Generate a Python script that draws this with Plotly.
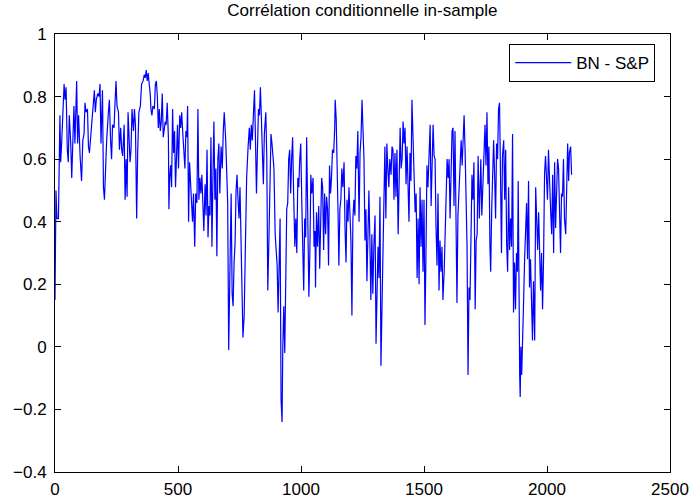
import plotly.graph_objects as go

obs = [0, 4, 8, 14, 20, 23, 27, 31, 37, 41, 45, 50, 54, 58, 64, 68, 72, 77, 81, 88,
       92, 96, 102, 106, 108, 113, 118, 122, 126, 132, 136, 140, 145, 149, 153, 156, 160, 164, 168, 174,
       179, 183, 187, 193, 197, 201, 206, 210, 217, 221, 226, 230, 234, 240, 244, 248, 252, 258, 262, 267,
       271, 275, 281, 285, 289, 293, 297, 301, 305, 309, 313, 319, 323, 327, 332, 336, 341, 347, 352, 358,
       363, 367, 371, 375, 379, 383, 387, 390, 394, 398, 404, 408, 412, 416, 420, 424, 428, 432, 436, 440,
       444, 448, 452, 456, 461, 463, 466, 470, 474, 478, 482, 486, 490, 494, 498, 502, 507, 511, 515, 519,
       523, 528, 532, 536, 539, 543, 547, 551, 555, 559, 563, 568, 572, 577, 581, 585, 589, 593, 597, 601,
       605, 610, 614, 618, 622, 626, 630, 634, 638, 642, 646, 650, 654, 658, 662, 666, 670, 675, 680, 684,
       688, 694, 698, 702, 706, 712, 716, 720, 724, 728, 732, 736, 740, 744, 748, 752, 756, 760, 764, 769,
       774, 779, 785, 790, 794, 798, 802, 806, 811, 815, 819, 823, 827, 831, 835, 839, 843, 847, 851, 857,
       861, 865, 870, 874, 878, 882, 886, 890, 895, 899, 903, 907, 911, 915, 919, 923, 926, 930, 934, 938,
       942, 946, 950, 954, 958, 962, 966, 970, 975, 979, 983, 987, 991, 995, 999, 1003, 1007, 1011, 1015, 1019,
       1023, 1027, 1032, 1036, 1040, 1044, 1049, 1053, 1057, 1059, 1063, 1067, 1072, 1076, 1080, 1084, 1088, 1092, 1096, 1100,
       1104, 1108, 1112, 1116, 1120, 1124, 1128, 1133, 1137, 1139, 1143, 1147, 1151, 1154, 1158, 1162, 1166, 1170, 1175, 1179,
       1183, 1187, 1191, 1195, 1199, 1203, 1207, 1211, 1215, 1219, 1223, 1227, 1231, 1236, 1240, 1244, 1248, 1252, 1256, 1260,
       1264, 1268, 1272, 1276, 1280, 1284, 1288, 1292, 1296, 1301, 1305, 1309, 1313, 1317, 1321, 1325, 1329, 1333, 1337, 1341,
       1345, 1349, 1353, 1357, 1361, 1366, 1370, 1374, 1378, 1382, 1386, 1390, 1395, 1399, 1403, 1407, 1411, 1415, 1419, 1423,
       1427, 1431, 1435, 1439, 1443, 1447, 1451, 1455, 1460, 1464, 1468, 1472, 1476, 1480, 1484, 1488, 1492, 1496, 1500, 1504,
       1508, 1512, 1516, 1521, 1525, 1529, 1533, 1537, 1541, 1545, 1549, 1553, 1557, 1561, 1565, 1569, 1573, 1577, 1582, 1586,
       1590, 1594, 1598, 1602, 1606, 1610, 1614, 1618, 1622, 1626, 1630, 1634, 1638, 1642, 1647, 1651, 1655, 1659, 1663, 1667,
       1671, 1675, 1679, 1683, 1687, 1691, 1695, 1699, 1703, 1708, 1712, 1716, 1720, 1725, 1727, 1731, 1735, 1740, 1744, 1748,
       1752, 1756, 1760, 1764, 1768, 1771, 1775, 1779, 1783, 1787, 1791, 1795, 1799, 1803, 1807, 1811, 1815, 1819, 1824, 1828,
       1832, 1836, 1840, 1844, 1848, 1852, 1856, 1860, 1864, 1868, 1872, 1876, 1880, 1883, 1886, 1889, 1891, 1894, 1897, 1901,
       1905, 1909, 1913, 1917, 1921, 1925, 1929, 1933, 1937, 1941, 1945, 1950, 1954, 1958, 1962, 1966, 1970, 1974, 1978, 1982,
       1986, 1990, 1994, 1998, 2002, 2006, 2010, 2015, 2019, 2023, 2027, 2031, 2035, 2039, 2043, 2047, 2051, 2055, 2059, 2063,
       2067, 2071, 2076, 2080, 2084, 2088, 2091, 2096, 2100]

corr = [0.15, 0.50, 0.41, 0.41, 0.74, 0.59, 0.65, 0.76, 0.84, 0.79, 0.83, 0.63, 0.59, 0.74, 0.65, 0.54, 0.66, 0.77, 0.65, 0.85,
        0.65, 0.74, 0.61, 0.57, 0.53, 0.66, 0.68, 0.78, 0.75, 0.76, 0.64, 0.62, 0.67, 0.74, 0.78, 0.81, 0.82, 0.75, 0.79, 0.81,
        0.80, 0.84, 0.65, 0.82, 0.51, 0.47, 0.58, 0.66, 0.75, 0.79, 0.66, 0.60, 0.71, 0.70, 0.78, 0.85, 0.77, 0.75, 0.63, 0.70,
        0.63, 0.61, 0.71, 0.47, 0.60, 0.48, 0.75, 0.66, 0.59, 0.63, 0.76, 0.69, 0.76, 0.71, 0.41, 0.62, 0.75, 0.77, 0.84, 0.85,
        0.87, 0.86, 0.885, 0.85, 0.875, 0.84, 0.81, 0.76, 0.74, 0.77, 0.76, 0.84, 0.85, 0.80, 0.70, 0.76, 0.69, 0.72, 0.81, 0.67,
        0.70, 0.72, 0.71, 0.78, 0.67, 0.44, 0.54, 0.58, 0.51, 0.76, 0.62, 0.69, 0.51, 0.60, 0.71, 0.57, 0.74, 0.70, 0.75, 0.69,
        0.65, 0.57, 0.69, 0.67, 0.77, 0.40, 0.59, 0.53, 0.47, 0.40, 0.49, 0.32, 0.49, 0.46, 0.76, 0.47, 0.54, 0.49, 0.55, 0.47,
        0.37, 0.52, 0.42, 0.63, 0.35, 0.45, 0.42, 0.67, 0.32, 0.54, 0.72, 0.47, 0.57, 0.29, 0.60, 0.65, 0.49, 0.64, 0.57, 0.69,
        0.75, 0.66, 0.51, 0.46, -0.01, 0.28, 0.49, 0.17, 0.13, 0.27, 0.33, 0.50, 0.55, 0.47, 0.41, 0.51, 0.35, 0.15, 0.03, 0.10,
        0.28, 0.54, 0.64, 0.70, 0.63, 0.71, 0.66, 0.75, 0.82, 0.66, 0.49, 0.63, 0.76, 0.74, 0.83, 0.73, 0.63, 0.52, 0.68, 0.75,
        0.60, 0.18, 0.36, 0.57, 0.68, 0.65, 0.60, 0.57, 0.36, 0.32, 0.26, 0.11, 0.32, 0.41, -0.17, -0.24, 0.00, 0.13, -0.02, 0.17,
        0.44, 0.46, 0.60, 0.63, 0.49, 0.60, 0.67, 0.49, 0.32, 0.41, 0.30, 0.54, 0.51, 0.60, 0.65, 0.47, 0.28, 0.18, 0.41, 0.35,
        0.67, 0.38, 0.16, 0.30, 0.55, 0.49, 0.54, 0.32, 0.37, 0.19, 0.43, 0.32, 0.45, 0.25, 0.47, 0.54, 0.51, 0.31, 0.49, 0.36,
        0.48, 0.44, 0.26, 0.58, 0.49, 0.54, 0.63, 0.62, 0.70, 0.79, 0.73, 0.61, 0.41, 0.26, 0.44, 0.47, 0.57, 0.51, 0.59, 0.38,
        0.27, 0.47, 0.40, 0.51, 0.41, 0.34, 0.10, 0.41, 0.47, 0.42, 0.61, 0.57, 0.69, 0.40, 0.62, 0.67, 0.79, 0.70, 0.60, 0.34,
        0.44, 0.21, 0.41, 0.50, 0.34, 0.15, 0.36, 0.17, 0.32, 0.42, 0.01, 0.13, 0.32, 0.22, 0.48, -0.06, 0.15, 0.28, 0.49, 0.64,
        0.41, 0.65, 0.57, 0.51, 0.60, 0.55, 0.64, 0.63, 0.47, 0.62, 0.48, 0.63, 0.36, 0.60, 0.70, 0.57, 0.60, 0.72, 0.65, 0.70,
        0.52, 0.64, 0.52, 0.40, 0.62, 0.53, 0.79, 0.65, 0.49, 0.43, 0.49, 0.22, 0.41, 0.20, 0.51, 0.32, 0.47, 0.24, 0.47, 0.07,
        0.30, 0.58, 0.51, 0.65, 0.71, 0.45, 0.63, 0.71, 0.61, 0.60, 0.38, 0.26, 0.49, 0.18, 0.34, 0.24, 0.32, 0.15, 0.24, 0.37,
        0.49, 0.60, 0.54, 0.60, 0.41, 0.61, 0.69, 0.70, 0.45, 0.69, 0.36, 0.14, 0.42, 0.51, 0.61, 0.66, 0.58, 0.65, 0.74, 0.63,
        0.47, 0.32, -0.09, 0.19, 0.15, 0.41, 0.55, 0.47, 0.59, 0.12, 0.34, 0.36, 0.61, 0.41, 0.49, 0.60, 0.42, 0.55, 0.66, 0.71,
        0.58, 0.75, 0.52, 0.64, 0.32, 0.24, 0.43, 0.52, 0.66, 0.55, 0.41, 0.65, 0.60, 0.76, 0.78, 0.55, 0.30, 0.61, 0.66, 0.47,
        0.63, 0.33, 0.24, 0.51, 0.31, 0.41, 0.32, 0.68, 0.11, 0.27, 0.12, 0.30, 0.24, 0.53, 0.02, -0.09, -0.16, 0.00, -0.09, 0.10,
        0.15, 0.28, 0.41, 0.46, 0.28, 0.53, 0.19, 0.28, 0.15, 0.02, 0.21, 0.02, 0.51, 0.42, 0.31, 0.43, 0.28, 0.18, 0.30, 0.12,
        0.28, 0.55, 0.61, 0.51, 0.47, 0.63, 0.52, 0.43, 0.36, 0.55, 0.30, 0.59, 0.38, 0.46, 0.60, 0.57, 0.38, 0.30, 0.49, 0.48,
        0.60, 0.41, 0.36, 0.51, 0.65, 0.53, 0.62, 0.64, 0.55]

x_ticks = [0, 500, 1000, 1500, 2000, 2500]
y_ticks = [-0.4, -0.2, 0, 0.2, 0.4, 0.6, 0.8, 1]

font_family = "Liberation Sans, Arial, sans-serif"
fsize = 17

fig = go.Figure()
fig.add_trace(go.Scatter(
    x=obs, y=corr, mode="lines", name="BN - S&P",
    line=dict(color="#0000FF", width=1.2),
))

axis_common = dict(
    showline=True, linecolor="black", linewidth=1, mirror="ticks",
    ticks="inside", ticklen=6, tickcolor="black", showgrid=False, zeroline=False,
    automargin=False,
    tickfont=dict(family=font_family, size=fsize, color="black"),
)

fig.update_layout(
    width=691, height=501,
    margin=dict(l=55, r=21, t=34, b=29, autoexpand=False),
    paper_bgcolor="white", plot_bgcolor="white",
    font=dict(family=font_family, size=fsize, color="black"),
    title=dict(text="Corrélation conditionnelle in-sample", x=0.5245, xanchor="center",
               y=0.992, yanchor="top", font=dict(family=font_family, size=fsize, color="black")),
    xaxis=dict(range=[0, 2500], tickvals=x_ticks, ticklabelstandoff=2, **axis_common),
    yaxis=dict(range=[-0.4, 1], tickvals=y_ticks, ticklabelstandoff=4, **axis_common),
    showlegend=True,
    legend=dict(x=0.976, y=0.977, xanchor="right", yanchor="top",
                bgcolor="white", bordercolor="black", borderwidth=1,
                font=dict(family=font_family, size=fsize, color="black"),
                itemwidth=56),
)

fig.write_html("out.html")
